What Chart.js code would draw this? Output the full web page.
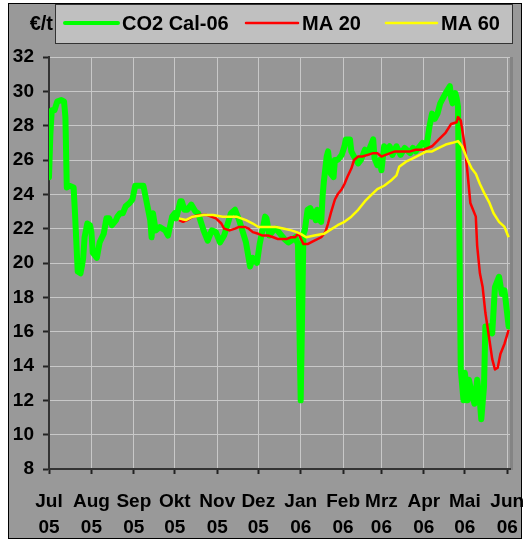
<!DOCTYPE html>
<html>
<head>
<meta charset="utf-8">
<title>CO2 Cal-06</title>
<script src="https://cdn.jsdelivr.net/npm/chart.js@4.4.1/dist/chart.umd.min.js"></script>
<style>
  html, body { margin: 0; padding: 0; background: #fff; }
  #wrap { position: relative; width: 526px; height: 541px; }
</style>
</head>
<body>
<div id="wrap"><canvas id="co2Chart" width="526" height="541"></canvas></div>
<script>
// x values are days counted from 1 Jul 2005
var tickDays   = [0, 31, 62, 92, 123, 153, 184, 215, 243, 274, 304, 335];
var tickMonths = ['Jul', 'Aug', 'Sep', 'Okt', 'Nov', 'Dez', 'Jan', 'Feb', 'Mrz', 'Apr', 'Mai', 'Jun'];
var tickYears  = ['05', '05', '05', '05', '05', '05', '06', '06', '06', '06', '06', '06'];

// CO2 Cal-06 settlement, EUR per tonne
var co2Days = [
  0, 1, 2, 4, 6, 9, 11, 12, 13, 15,
  18, 19, 21, 23, 24, 25, 26, 28, 30, 31,
  32, 34, 35, 37, 40, 42, 44, 46, 49, 50,
  52, 54, 56, 59, 61, 63, 66, 69, 71, 74,
  75, 76, 78, 81, 83, 85, 87, 90, 92, 93,
  96, 97, 99, 101, 104, 107, 109, 113, 116, 119,
  122, 125, 128, 133, 136, 139, 144, 147, 149, 152,
  154, 158, 159, 161, 164, 166, 169, 172, 175, 177,
  180, 182, 184, 186, 187, 189, 191, 192, 193, 195,
  196, 198, 199, 200, 201, 203, 204, 205, 206, 208,
  209, 211, 214, 216, 217, 220, 221, 223, 226, 228,
  229, 231, 233, 235, 237, 238, 240, 242, 243, 245,
  246, 249, 251, 254, 257, 260, 264, 266, 268, 271,
  273, 276, 278, 280, 282, 284, 286, 288, 290, 293,
  294, 295, 297, 298, 299, 301, 303, 304, 306, 307,
  309, 311, 313, 315, 316, 318, 319, 320, 322, 324,
  326, 328, 329, 331, 333, 335, 336
];
var co2Price = [
  25.0, 27.5, 28.9, 28.9, 29.4, 29.5, 29.4, 28.5, 24.4, 24.5,
  24.4, 22.9, 19.5, 19.4, 19.8, 20.3, 21.5, 22.3, 22.2, 21.8,
  20.6, 20.4, 20.3, 21.2, 21.7, 22.6, 22.6, 22.2, 22.5, 22.7,
  22.9, 22.9, 23.3, 23.5, 23.7, 24.5, 24.5, 24.5, 23.7, 22.5,
  21.5, 22.9, 21.9, 22.1, 22.0, 21.9, 21.6, 22.7, 22.9, 22.6,
  23.6, 23.6, 23.1, 23.1, 23.4, 23.0, 22.9, 21.9, 21.3, 21.9,
  21.8, 21.2, 21.6, 22.9, 23.1, 22.5, 21.2, 19.8, 20.3, 20.0,
  21.1, 22.7, 22.6, 21.6, 21.9, 22.0, 21.7, 21.4, 21.2, 21.3,
  21.5, 21.1, 12.0, 21.7, 21.9, 23.1, 23.2, 22.7, 23.0, 22.5,
  23.1, 22.5, 22.4, 23.9, 24.8, 26.2, 26.5, 25.8, 25.2, 25.0,
  26.0, 26.0, 26.3, 26.8, 27.2, 27.2, 26.5, 26.2, 25.8, 26.0,
  26.2, 26.6, 26.4, 26.8, 27.2, 26.1, 25.7, 26.0, 25.4, 26.8,
  26.5, 26.8, 26.3, 26.8, 26.3, 26.7, 26.4, 26.7, 26.5, 26.8,
  27.0, 26.8, 27.9, 28.7, 28.4, 28.7, 29.3, 29.6, 29.9, 30.3,
  29.6, 29.3, 29.9, 29.6, 29.1, 13.8, 12.0, 13.6, 12.0, 13.2,
  12.4, 11.8, 13.2, 11.9, 10.9, 12.8, 16.3, 16.1, 16.3, 15.9,
  18.6, 19.0, 19.2, 18.2, 18.4, 17.0, 16.3
];

// 20-day moving average
var ma20Days = [
  95, 98, 101, 105, 110, 115, 122, 126, 128, 132,
  136, 139, 143, 146, 149, 153, 156, 160, 164, 167,
  171, 174, 177, 180, 182, 183, 186, 189, 194, 199,
  202, 204, 206, 209, 211, 214, 216, 218, 221, 223,
  226, 229, 233, 237, 240, 243, 246, 253, 260, 264,
  268, 274, 280, 285, 290, 294, 298, 299, 301, 304,
  306, 308, 312, 313, 315, 317, 319, 322, 324, 326,
  328, 330, 333, 336
];
var ma20 = [
  22.5, 22.4, 22.5, 22.7, 22.8, 22.8, 22.6, 22.3, 22.0, 21.9,
  22.0, 22.1, 22.1, 22.0, 21.8, 21.7, 21.6, 21.6, 21.5, 21.4,
  21.4, 21.4, 21.5, 21.5, 21.7, 21.6, 21.1, 21.1, 21.3, 21.5,
  21.8, 22.3, 22.9, 23.7, 24.0, 24.3, 24.6, 25.0, 25.5, 26.0,
  26.2, 26.2, 26.3, 26.4, 26.4, 26.2, 26.3, 26.5, 26.5, 26.5,
  26.6, 26.6, 26.8, 27.2, 27.6, 28.1, 28.2, 28.5, 28.3, 26.8,
  25.2, 23.5, 22.7, 21.0, 19.4, 18.6, 17.1, 15.5, 14.4, 13.8,
  13.9, 14.7, 15.3, 16.1
];

// 60-day moving average
var ma60Days = [
  95, 100, 105, 113, 120, 127, 137, 144, 149, 153,
  159, 166, 172, 177, 181, 184, 188, 194, 201, 205,
  211, 216, 221, 226, 231, 236, 240, 245, 250, 254,
  256, 261, 266, 271, 276, 280, 285, 290, 295, 299,
  302, 306, 309, 312, 315, 318, 322, 325, 329, 333,
  336
];
var ma60 = [
  22.6, 22.5, 22.7, 22.8, 22.8, 22.7, 22.7, 22.5, 22.3, 22.1,
  22.1, 22.1, 22.0, 21.9, 21.8, 21.7, 21.5, 21.6, 21.7, 21.9,
  22.2, 22.4, 22.7, 23.1, 23.6, 24.0, 24.3, 24.5, 24.8, 25.1,
  25.6, 25.9, 26.1, 26.3, 26.5, 26.5, 26.7, 26.9, 27.0, 27.1,
  26.8, 26.0, 25.5, 25.2, 24.6, 24.1, 23.5, 22.9, 22.4, 22.1,
  21.5
];

var fontFamily = "'Liberation Sans', Arial, Helvetica, sans-serif";

function toPoints(days, values) {
  return days.map(function (d, i) { return { x: d, y: values[i] }; });
}

// grey frame, plot background and the boxed legend on top
var chartFrame = {
  id: 'chartFrame',
  beforeDraw: function (chart) {
    var ctx = chart.ctx, a = chart.chartArea;
    ctx.save();
    ctx.fillStyle = '#ffffff';
    ctx.fillRect(0, 0, chart.width, chart.height);
    ctx.fillStyle = '#999999';
    ctx.fillRect(8, 3, 514, 536);
    ctx.strokeStyle = '#000000';
    ctx.lineWidth = 1;
    ctx.strokeRect(8.5, 3.5, 513, 535);
    ctx.fillStyle = '#969696';
    ctx.fillRect(a.left, a.top, a.right - a.left, a.bottom - a.top);
    ctx.fillStyle = '#848484';
    ctx.fillRect(a.right, a.top, 3, a.bottom - a.top + 1);
    ctx.restore();
  },
  afterDraw: function (chart) {
    var ctx = chart.ctx;
    var slots = [[65, 118, 122, 4], [246, 298, 302, 2.5], [386, 437, 441, 2.5]];
    ctx.save();
    ctx.fillStyle = '#c0c0c0';
    ctx.fillRect(55, 4, 458, 40);
    ctx.strokeStyle = '#333333';
    ctx.lineWidth = 1;
    ctx.strokeRect(55.5, 4.5, 457, 39);

    ctx.font = 'bold 20px ' + fontFamily;
    ctx.textBaseline = 'middle';
    ctx.fillStyle = '#000000';
    ctx.textAlign = 'right';
    ctx.fillText('€/t', 53, 24);

    ctx.textAlign = 'left';
    chart.data.datasets.forEach(function (ds, i) {
      var s = slots[i];
      ctx.strokeStyle = ds.borderColor;
      ctx.lineWidth = s[3];
      ctx.lineCap = 'round';
      ctx.beginPath();
      ctx.moveTo(s[0], 23);
      ctx.lineTo(s[1], 23);
      ctx.stroke();
      ctx.fillStyle = '#000000';
      ctx.fillText(ds.label, s[2], 24);
    });
    ctx.restore();
  }
};

var tickFont = { family: fontFamily, size: 19, weight: 'bold', lineHeight: 1.37 };

new Chart(document.getElementById('co2Chart'), {
  type: 'line',
  data: {
    datasets: [
      {
        label: 'CO2 Cal-06',
        data: toPoints(co2Days, co2Price),
        borderColor: '#00ff00',
        borderWidth: 6,
        borderJoinStyle: 'round',
        borderCapStyle: 'round',
        pointRadius: 0,
        tension: 0,
        order: 3
      },
      {
        label: 'MA 20',
        data: toPoints(ma20Days, ma20),
        borderColor: '#ff0000',
        borderWidth: 2.5,
        borderJoinStyle: 'round',
        pointRadius: 0,
        tension: 0,
        order: 2
      },
      {
        label: 'MA 60',
        data: toPoints(ma60Days, ma60),
        borderColor: '#ffff00',
        borderWidth: 2.5,
        borderJoinStyle: 'round',
        pointRadius: 0,
        tension: 0,
        order: 1
      }
    ]
  },
  options: {
    responsive: false,
    animation: false,
    devicePixelRatio: 1,
    layout: { padding: { left: 0, top: 57, right: 16, bottom: 0 } },
    plugins: {
      legend: { display: false },
      tooltip: { enabled: false }
    },
    scales: {
      x: {
        type: 'linear',
        min: 0,
        max: 337,
        afterBuildTicks: function (scale) {
          scale.ticks = tickDays.map(function (d) { return { value: d }; });
        },
        afterFit: function (scale) {
          scale.height = 72;
          scale.paddingLeft = 0;
          scale.paddingRight = 0;
        },
        ticks: {
          autoSkip: false,
          maxRotation: 0,
          padding: 15,
          color: '#000000',
          font: tickFont,
          callback: function (value) {
            var i = tickDays.indexOf(value);
            return [tickMonths[i], tickYears[i]];
          }
        },
        grid: { color: '#c8c8c8', lineWidth: 1, tickLength: 5, tickColor: '#222222', tickWidth: 2 },
        border: { color: '#333333', width: 2 }
      },
      y: {
        min: 8,
        max: 32,
        afterFit: function (scale) {
          scale.width = 49;
          scale.paddingTop = 0;
          scale.paddingBottom = 0;
        },
        ticks: {
          stepSize: 2,
          padding: 9,
          color: '#000000',
          font: tickFont
        },
        grid: { color: '#c8c8c8', lineWidth: 1, tickLength: 6, tickColor: '#222222', tickWidth: 2 },
        border: { color: '#333333', width: 2 }
      }
    }
  },
  plugins: [chartFrame]
});
</script>
</body>
</html>
